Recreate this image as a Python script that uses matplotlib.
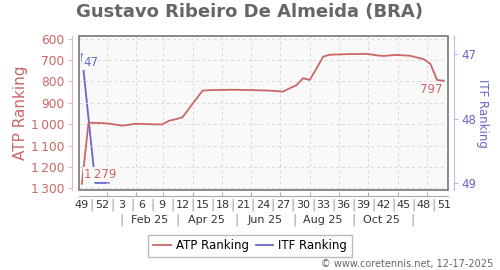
import datetime as dt
import matplotlib
matplotlib.use("Agg")
import matplotlib.pyplot as plt
from matplotlib.patches import Rectangle
from matplotlib.transforms import blended_transform_factory

# weekly rankings, week 49/2024 .. week 51/2025
atp_rank = [1279, 993, 994, 995, 997, 1002, 1007, 1003, 998, 999,
            1000, 1001, 1001, 984, 977, 968, 926, 885, 843, 841,
            840, 840, 839, 839, 840, 840, 841, 842, 843, 845,
            848, 832, 818, 785, 793, 740, 684, 675, 674, 673,
            672, 672, 671, 673, 678, 681, 678, 676, 678, 680,
            688, 696, 718, 793, 797]
itf_week = [0, 2, 3, 4]
itf_rank = [47, 49, 49, 49]
week_labels = ['49', '52', '3', '6', '9', '12', '15', '18', '21', '24',
               '27', '30', '33', '36', '39', '42', '45', '48', '51']
month_labels = ['Feb 25', 'Apr 25', 'Jun 25', 'Aug 25', 'Oct 25']
atp_ticks = [600, 700, 800, 900, 1000, 1100, 1200, 1300]
itf_ticks = [47, 48, 49]

red = '#cc6666'
blue = '#6666cc'
bg = '#f9f9f9'
start = dt.date(2024, 12, 6)


def wk(d):
    return (d - start).days / 7


fig = plt.figure(figsize=(5, 2.7), dpi=100)
ax = fig.add_axes([0.157, 0.2963, 0.738, 0.5715])
ax2 = ax.twinx()

x = list(range(len(atp_rank)))
ax.plot(x, atp_rank, color=red, lw=1.3, label='ATP Ranking', zorder=3)
ax2.plot(itf_week, itf_rank, color=blue, lw=1.3, label='ITF Ranking', zorder=3)

ax.set_xlim(-0.5, 54.55)
ax.set_ylim(1308, 586)
ax2.set_ylim(49.11, 46.71)

# grid
month_pos = [wk(dt.date(2025, m, 1)) for m in range(1, 13)]
ax.set_xticks(month_pos)
ax.set_xticklabels([])
ax.set_yticks(atp_ticks)
ax.set_yticklabels([f'{v:,}'.replace(',', '\u2009') for v in atp_ticks])
ax.grid(True, color='#d8d8d8', ls=(0, (3, 3)), lw=0.7)

# spines
for s in ['top', 'right']:
    ax.spines[s].set_visible(False)
for s in ['top', 'left', 'bottom']:
    ax2.spines[s].set_visible(False)
ax.spines['left'].set_position(('outward', 5))
ax.spines['left'].set_color('#e8b8b8')
ax.spines['bottom'].set_position(('outward', 4))
ax.spines['bottom'].set_color('#aaaaaa')
ax2.spines['right'].set_position(('outward', 5))
ax2.spines['right'].set_color('#b8b8ee')
ax.add_patch(Rectangle((0, 0), 1, 1, transform=ax.transAxes, fill=False,
                       edgecolor='#777777', lw=1.2, clip_on=False, zorder=5))

ax.tick_params(axis='y', colors='#e8b8b8', labelcolor=red, labelsize=8.8, length=3, pad=2)
ax.tick_params(axis='x', direction='in', colors='#aaaaaa', length=3)
ax2.set_yticks(itf_ticks)
ax2.tick_params(axis='y', colors='#b8b8ee', labelcolor=blue, labelsize=8.5, length=3, pad=2)

# week labels and separators
tr = blended_transform_factory(ax.transData, fig.transFigure)
for i, lab in enumerate(week_labels):
    ax.text(i * 3, 0.2407, lab, transform=tr, ha='center', va='center',
            fontsize=8, color='#333333')
    if i < len(week_labels) - 1:
        ax.text(i * 3 + 1.5, 0.2407, '|', transform=tr, ha='center', va='center',
                fontsize=9, color='#999999')
for k, lab in enumerate(month_labels):
    ax.text(wk(dt.date(2025, 2 * k + 2, 15)), 0.185, lab, transform=tr,
            ha='center', va='center', fontsize=8, color='#333333')
for m in [1, 3, 5, 7, 9, 11]:
    ax.text(wk(dt.date(2025, m, 16)), 0.185, '|', transform=tr,
            ha='center', va='center', fontsize=9, color='#999999')

# value labels
box = dict(facecolor=bg, edgecolor='none', pad=0.6)
ax2.annotate(str(itf_rank[0]), xy=(itf_week[0], itf_rank[0]), xytext=(1, -5.8),
             textcoords='offset points', ha='left', va='center', fontsize=8.5,
             color=blue, bbox=box, zorder=6)
ax.annotate(f'{atp_rank[0]:,}'.replace(',', '\u2009'), xy=(0, atp_rank[0]),
            xytext=(1.7, 6.5), textcoords='offset points', ha='left', va='center',
            fontsize=8.5, color=red, bbox=box, zorder=6)
ax.annotate(str(atp_rank[-1]), xy=(x[-1], atp_rank[-1]), xytext=(-0.7, -6.5),
            textcoords='offset points', ha='right', va='center', fontsize=8.5,
            color=red, bbox=box, zorder=6)
ax.set_zorder(ax2.get_zorder() + 1)
ax.patch.set_visible(False)
ax2.patch.set_visible(True)
ax2.patch.set_facecolor(bg)

# texts
fig.text(0.5, 1 - 16.7 / 270, 'Gustavo Ribeiro De Almeida (BRA)', ha='center',
         va='baseline', fontsize=13, fontweight='bold', color='#666666')
fig.text(21 / 500, 0.5815, 'ATP Ranking', rotation=90, ha='center', va='center',
         fontsize=11, color=red)
fig.text(482 / 500, 0.5815, 'ITF Ranking', rotation=270, ha='center', va='center',
         fontsize=8.5, color=blue)
fig.text(493 / 500, 1 - 264 / 270, '\u00a9 www.coretennis.net, 12-17-2025',
         ha='right', va='center', fontsize=7, color='#666666')

h1, l1 = ax.get_legend_handles_labels()
h2, l2 = ax2.get_legend_handles_labels()
fig.legend(h1 + h2, l1 + l2, loc='center', bbox_to_anchor=(0.5, 0.089), ncol=2,
           fontsize=8.5, frameon=True, fancybox=False, edgecolor='#aaaaaa',
           handlelength=1.5, handletextpad=0.4, columnspacing=0.6,
           borderpad=0.4)

plt.savefig('out.png', dpi=100)
